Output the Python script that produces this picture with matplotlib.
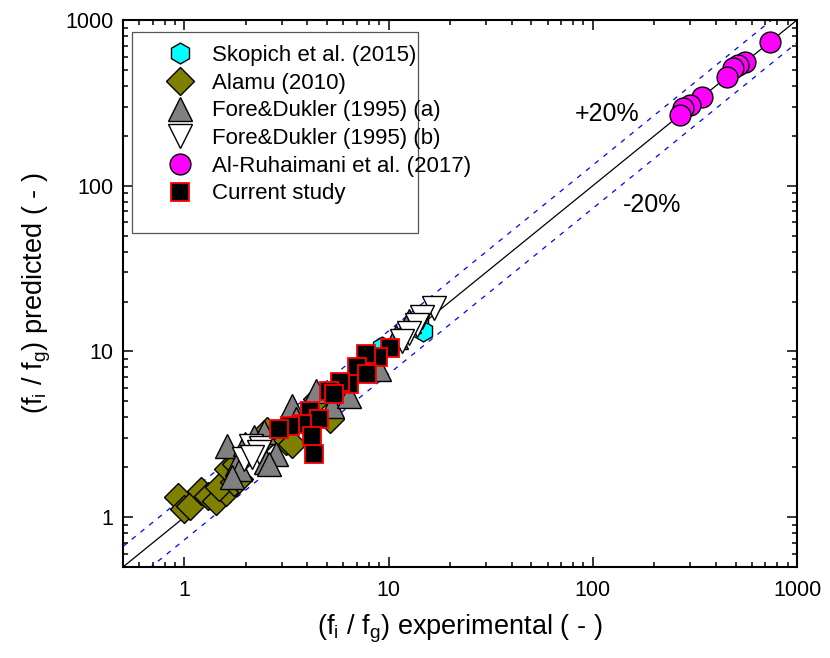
import matplotlib
matplotlib.use("Agg")
import matplotlib.pyplot as plt
import numpy as np
from matplotlib.patches import Rectangle
from matplotlib.ticker import LogLocator, NullFormatter, FixedLocator, FixedFormatter

plt.rcParams['font.family'] = ['Liberation Sans', 'DejaVu Sans']
plt.rcParams['mathtext.fontset'] = 'custom'
plt.rcParams['mathtext.rm'] = 'Liberation Sans'
plt.rcParams['mathtext.it'] = 'Liberation Sans'

# ---------------- data ----------------
skopich_x = [14.1, 14.7, 9.27]
skopich_y = [15.2, 13.2, 10.6]

alamu_x = [0.93, 0.99, 1.07, 1.20, 1.31, 1.42, 1.59, 1.47, 1.74, 1.84, 1.64, 1.78,
           2.50, 2.53, 3.13, 3.35, 4.45, 5.14]
alamu_y = [1.32, 1.12, 1.16, 1.43, 1.34, 1.25, 1.41, 1.52, 1.62, 1.69, 1.95, 2.09,
           3.03, 3.30, 2.87, 2.75, 5.14, 3.90]

fore_a_x = [1.61, 1.80, 1.88, 1.70, 1.99, 2.18, 2.44, 2.50, 2.80, 2.58, 3.35, 3.51,
            4.40, 5.27, 6.38, 8.96, 10.9, 12.6]
fore_a_y = [2.68, 2.09, 1.95, 1.74, 2.75, 3.03, 3.25, 2.14, 2.40, 2.09, 4.66, 3.89,
            5.74, 4.66, 5.36, 7.79, 12.3, 15.2]

fore_b_x = [16.7, 14.6, 13.8, 12.6, 11.6, 2.11, 2.36, 1.95, 2.31, 2.13]
fore_b_y = [18.4, 16.2, 14.5, 13.0, 11.5, 2.68, 2.60, 2.24, 2.46, 2.30]

ruh_x = [736, 555, 513, 485, 453, 341, 298, 275, 266]
ruh_y = [737, 558, 536, 514, 454, 344, 308, 295, 268]

cur_x = [10.2, 8.86, 7.71, 6.99, 7.82, 6.38, 5.81, 5.09, 5.39, 4.14, 4.55, 3.75,
         3.30, 2.89, 4.20, 4.30]
cur_y = [10.5, 9.2, 9.6, 8.0, 7.27, 6.33, 6.5, 5.77, 5.51, 4.37, 3.89, 3.63,
         3.55, 3.39, 3.09, 2.40]

labels = ['Skopich et al. (2015)', 'Alamu (2010)', 'Fore&Dukler (1995) (a)',
          'Fore&Dukler (1995) (b)', 'Al-Ruhaimani et al. (2017)', 'Current study']

line_x = [0.5, 1000]
upper_factor = 1.33
lower_factor = 0.73

# ---------------- figure ----------------
W, H = 830, 658
fig = plt.figure(figsize=(W / 100, H / 100), dpi=100)
ax = fig.add_axes([123 / W, 1 - 567 / H, (797 - 123) / W, (567 - 20) / H])

ax.set_xscale('log')
ax.set_yscale('log')
ax.set_xlim(0.5, 1000)
ax.set_ylim(0.5, 1000)

lx = np.array(line_x)
ax.plot(lx, lx, color='black', lw=0.9, zorder=1)
ax.plot(lx, lx * upper_factor, color='#0000ff', lw=0.9, ls=(0, (4.0, 5.0)), zorder=1)
ax.plot(lx, lx * lower_factor, color='#0000ff', lw=0.9, ls=(0, (4.0, 5.0)), zorder=1)

mew = 1.0
h1, = ax.plot(skopich_x, skopich_y, ls='none', marker='h', ms=15, mfc='#00ffff',
              mec='black', mew=mew, zorder=3)
h2, = ax.plot(alamu_x, alamu_y, ls='none', marker='D', ms=14, mfc='#808000',
              mec='black', mew=mew, zorder=3)
h3, = ax.plot(fore_a_x, fore_a_y, ls='none', marker='^', ms=17, mfc='#808080',
              mec='black', mew=mew, zorder=3)
h4, = ax.plot(fore_b_x, fore_b_y, ls='none', marker='v', ms=17, mfc='white',
              mec='black', mew=mew, zorder=3)
h5, = ax.plot(ruh_x, ruh_y, ls='none', marker='o', ms=15, mfc='#ff00ff',
              mec='black', mew=mew, zorder=3)
h6, = ax.plot(cur_x, cur_y, ls='none', marker='s', ms=13, mfc='black',
              mec='#ff0000', mew=1.3, zorder=3)

ax.text(118, 272, '+20%', fontsize=18, ha='center', va='center')
ax.text(194, 77, '-20%', fontsize=18, ha='center', va='center')

# ticks
for axis in (ax.xaxis, ax.yaxis):
    axis.set_major_locator(FixedLocator([1, 10, 100, 1000]))
    axis.set_major_formatter(FixedFormatter(['1', '10', '100', '1000']))
    axis.set_minor_locator(LogLocator(base=10, subs=np.arange(2, 10) * 1.0, numticks=20))
    axis.set_minor_formatter(NullFormatter())
ax.tick_params(which='both', direction='in', top=True, right=True, width=1.1,
               labelsize=15.5)
ax.tick_params(which='major', length=7.5)
ax.tick_params(which='minor', length=3.8)
ax.tick_params(axis='x', pad=9)
ax.tick_params(axis='y', pad=7)
for s in ax.spines.values():
    s.set_linewidth(1.5)

ax.set_xlabel(r'(f$_\mathregular{i}$ / f$_\mathregular{g}$) experimental ( - )',
              fontsize=19.5, labelpad=9)
ax.set_ylabel(r'(f$_\mathregular{i}$ / f$_\mathregular{g}$) predicted ( - )',
              fontsize=19.5, labelpad=9)

# legend frame
fig.patches.append(Rectangle((132 / W, 1 - 233 / H), (418 - 132) / W, (233 - 32) / H,
                             transform=fig.transFigure, fill=True, facecolor='white',
                             edgecolor='#555555', lw=0.9, zorder=5))
handles = [h1, h2, h3, h4, h5, h6]
leg = fig.legend(handles, labels, loc='upper left',
                 bbox_to_anchor=(163 / W, 1 - 45 / H), bbox_transform=fig.transFigure,
                 frameon=False, fontsize=16, borderpad=0, borderaxespad=0,
                 handlelength=1.5, handletextpad=0.7, labelspacing=0.30,
                 numpoints=1)
leg.set_zorder(6)

fig.savefig('out.png', dpi=100)
